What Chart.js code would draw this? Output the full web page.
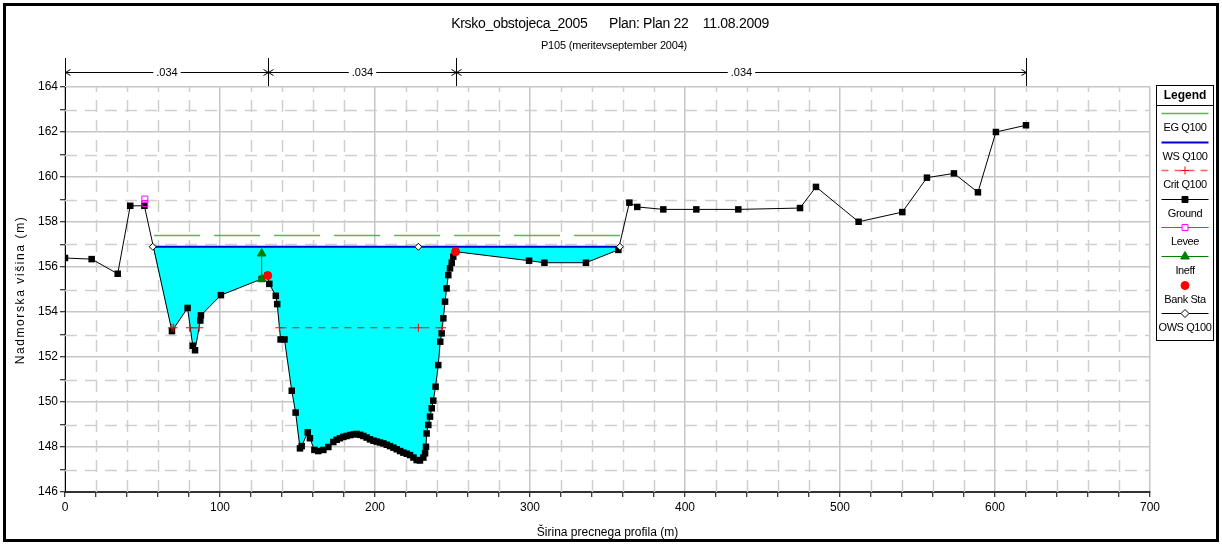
<!DOCTYPE html>
<html>
<head>
<meta charset="utf-8">
<title>P105 cross section</title>
<script src="https://cdn.jsdelivr.net/npm/chart.js@4.4.1/dist/chart.umd.min.js"></script>
<style>
  html, body { margin: 0; padding: 0; background: #fff; overflow: hidden; }
  #wrap { position: relative; width: 1222px; height: 548px; }
</style>
</head>
<body>
<div id="wrap"><canvas id="c" width="1222" height="548"></canvas></div>
<script>
// ---- text ----
const FONT = '"Liberation Sans Narrow","Arial Narrow","Liberation Sans",Arial,sans-serif';
const titleText = 'Krsko_obstojeca_2005      Plan: Plan 22    11.08.2009';
const subtitleText = 'P105 (meritevseptember 2004)';
const xAxisTitle = 'Širina precnega profila (m)';
const yAxisTitle = 'Nadmorska višina (m)';

// ---- axes ----
const xMin = 0, xMax = 700, xMajor = 100, xMinor = 20;
const yMin = 146, yMax = 164, yMajor = 2, yMinor = 1;

// ---- ground profile (station, elevation) ----
const groundX = [0, 17.2, 34, 42.1, 51.2, 69, 79.1, 82.4, 83.9, 87.3, 87.7, 100.6, 126.9,
  130.8, 131.8, 136.0, 136.9, 139.1, 141.6, 146.3, 148.8, 151.6, 152.7, 156.6, 158.0, 160.9,
  163.4, 166.7, 169.9, 173.1, 175.3, 177.4, 179.6, 181.7, 184.0, 186.1, 188.2, 190.4, 192.5,
  194.6, 196.8, 199.0, 201.1, 203.2, 205.4, 207.6, 209.7, 211.9, 214.0, 216.2, 218.3, 220.5,
  222.6, 224.8, 226.9, 229.0, 231.2, 232.3, 232.9, 233.3, 234.4, 235.5, 236.6, 237.6, 239.1,
  240.8, 242.1, 243.0, 244.1, 245.2, 246.2, 247.3, 248.4, 249.5, 250.5, 252.0,
  299.4, 309.3, 336.1, 357.0, 364.1, 369.2, 386.0, 407.3, 434.4, 474.2, 484.5, 512.0, 540.2,
  556.1, 573.5, 589.0, 600.6, 620.0];
const groundY = [156.4, 156.35, 155.7, 158.72, 158.72, 153.15, 154.18, 152.5, 152.3, 153.62, 153.85, 154.75, 155.47,
  155.62, 155.25, 154.72, 154.35, 152.78, 152.78, 150.5, 149.53, 147.94, 148.04, 148.65, 148.39, 147.87,
  147.82, 147.87, 148.0, 148.22, 148.32, 148.39, 148.45, 148.49, 148.53, 148.56, 148.58, 148.54, 148.49,
  148.42, 148.34, 148.28, 148.24, 148.2, 148.16, 148.1, 148.04, 147.97, 147.9, 147.82, 147.75, 147.7,
  147.64, 147.53, 147.42, 147.4, 147.53, 147.72, 148.01, 148.6, 148.98, 149.35, 149.72, 150.06, 150.68,
  151.64, 152.68, 153.05, 153.72, 154.46, 155.05, 155.64, 155.94, 156.19, 156.46, 156.68,
  156.28, 156.19, 156.19, 156.76, 158.86, 158.67, 158.56, 158.56, 158.56, 158.62, 159.56, 158.01, 158.44,
  159.97, 160.16, 159.32, 162.0, 162.3];

// ---- other profile elements ----
const leveeX = [51.5, 51.5];
const leveeY = [159.02, 158.82];
const ineffX = [126.9, 126.9];
const ineffY = [155.47, 156.6];
const bankX = [130.8, 252.0];
const bankY = [155.62, 156.68];
const owsX = [56.6, 228.0, 358.0];
const owsY = [156.9, 156.9, 156.9];
const wsElev = 156.9;
const wsX = [56.6, 358.0];
const egElev = 157.4;
const egX = [57.5, 358.0];
const critElev = 153.3;
const critX = [69.0, 70.1, null, 80.5, 86.6, null, 138.3, 228.0, 243.3];

// ---- Manning's n ----
const nStations = [0, 131, 252, 620];
const nValues = ['.034', '.034', '.034'];

// ---- legend entries ----
const legendNames = ['EG Q100', 'WS Q100', 'Crit Q100', 'Ground', 'Levee', 'Ineff', 'Bank Sta', 'OWS Q100'];

// ---- colours ----
const C = {
  eg: 'rgb(96,176,96)', ws: '#0000d0', crit: '#ff0000', ground: '#000000',
  levee: '#ff00ff', ineff: '#008000', bank: '#ff0000', ows: '#000000',
  water: '#00ffff', gridMajor: '#c6c6c6', gridMinor: '#cfcfcf'
};

const pts = (xs, ys) => xs.map((x, i) => (x === null ? { x: null, y: null } : { x, y: ys[i] }));
const flat = (xs, v) => xs.map(x => (x === null ? { x: null, y: null } : { x, y: v }));

const groundPts = pts(groundX, groundY);
const waterPts = [{ x: wsX[0], y: wsElev }]
  .concat(groundPts.filter(p => p.x > wsX[0] && p.x < wsX[1]))
  .concat([{ x: wsX[1], y: wsElev }]);

// dashed minor grid, drawn under the datasets
const minorGrid = {
  id: 'minorGrid',
  beforeDatasetsDraw(chart) {
    const { ctx, chartArea: a, scales: { x, y } } = chart;
    ctx.save();
    ctx.strokeStyle = C.gridMinor;
    ctx.lineWidth = 1.5;
    ctx.setLineDash([12, 8]);
    for (let v = xMin + xMinor; v < xMax; v += xMinor) {
      if (v % xMajor === 0) continue;
      const px = Math.round(x.getPixelForValue(v)) + 0.5;
      ctx.beginPath(); ctx.moveTo(px, a.bottom); ctx.lineTo(px, a.top); ctx.stroke();
    }
    for (let v = yMin + yMinor; v < yMax; v += yMinor) {
      if (v % yMajor === 0) continue;
      const py = Math.round(y.getPixelForValue(v)) + 0.5;
      ctx.beginPath(); ctx.moveTo(a.left, py); ctx.lineTo(a.right, py); ctx.stroke();
    }
    ctx.restore();
  }
};

// titles, n-value bar, legend box and frame
const decorations = {
  id: 'decorations',
  afterDraw(chart) {
    const { ctx, scales: { x } } = chart;
    ctx.save();

    // frame
    ctx.strokeStyle = '#000';
    ctx.lineWidth = 3;
    ctx.strokeRect(4.5, 4.5, 1213, 536);

    // titles
    ctx.fillStyle = '#000';
    ctx.textAlign = 'center';
    ctx.textBaseline = 'middle';
    ctx.font = '14px ' + FONT;
    ctx.letterSpacing = '-0.3px';
    ctx.fillText(titleText, 610, 24);
    ctx.font = '11px ' + FONT;
    ctx.letterSpacing = '-0.2px';
    ctx.fillText(subtitleText, 614, 46);
    ctx.letterSpacing = '0px';

    // y axis title
    ctx.save();
    ctx.translate(21, 290);
    ctx.rotate(-Math.PI / 2);
    ctx.font = '12px ' + FONT;
    ctx.letterSpacing = '1.6px';
    ctx.fillText(yAxisTitle, 0, 0);
    ctx.restore();

    // Manning's n bar
    const yb = 72.5;
    const sx = nStations.map(s => Math.round(x.getPixelForValue(s)) + 0.5);
    ctx.strokeStyle = '#000';
    ctx.lineWidth = 1;
    ctx.font = '11px ' + FONT;
    sx.forEach(p => { ctx.beginPath(); ctx.moveTo(p, 58); ctx.lineTo(p, 86); ctx.stroke(); });
    for (let i = 0; i < nValues.length; i++) {
      const a = sx[i], b = sx[i + 1], m = (a + b) / 2;
      const w = ctx.measureText(nValues[i]).width / 2 + 3;
      ctx.beginPath();
      ctx.moveTo(a, yb); ctx.lineTo(m - w, yb);
      ctx.moveTo(m + w, yb); ctx.lineTo(b, yb);
      ctx.moveTo(a + 5, yb - 3); ctx.lineTo(a, yb); ctx.lineTo(a + 5, yb + 3);
      ctx.moveTo(b - 5, yb - 3); ctx.lineTo(b, yb); ctx.lineTo(b - 5, yb + 3);
      ctx.stroke();
      ctx.fillText(nValues[i], m, yb + 0.5);
    }

    // legend
    const L = 1156.5, R = 1213.5, T = 85.5, B = 340.5;
    ctx.fillStyle = '#fff';
    ctx.fillRect(L, T, R - L, B - T);
    ctx.strokeStyle = '#000';
    ctx.lineWidth = 1;
    ctx.strokeRect(L, T, R - L, B - T);
    ctx.beginPath(); ctx.moveTo(L, 105.5); ctx.lineTo(R, 105.5); ctx.stroke();
    ctx.fillStyle = '#000';
    ctx.font = 'bold 12px ' + FONT;
    ctx.fillText('Legend', (L + R) / 2, 96);
    ctx.font = '11px ' + FONT;
    ctx.letterSpacing = '-0.4px';
    const cx = (L + R) / 2, x0 = L + 5, x1 = R - 5;
    legendNames.forEach((name, i) => {
      const sy = Math.round(113 + i * 28.6) + 0.5;
      ctx.save();
      const line = (color, width, dash) => {
        ctx.strokeStyle = color; ctx.lineWidth = width; ctx.setLineDash(dash || []);
        ctx.beginPath(); ctx.moveTo(x0, sy); ctx.lineTo(x1, sy); ctx.stroke();
        ctx.setLineDash([]);
      };
      const mark = (style, r, fill, stroke) => {
        ctx.fillStyle = fill; ctx.strokeStyle = stroke; ctx.lineWidth = 1;
        Chart.helpers.drawPoint(ctx, { pointStyle: style, rotation: 0, radius: r, borderWidth: 1 }, cx, sy);
      };
      if (i === 0) line(C.eg, 1.5);
      if (i === 1) line(C.ws, 2);
      if (i === 2) { line('#ff6060', 1.5, [7, 6]); mark('cross', 4, C.crit, C.crit); }
      if (i === 3) { line(C.ground, 1); mark('rect', 4.2, C.ground, C.ground); }
      if (i === 4) { line(C.levee, 1); mark('rect', 4.2, '#fff', C.levee); }
      if (i === 5) { line(C.ineff, 1); mark('triangle', 5, C.ineff, C.ineff); }
      if (i === 6) { mark('circle', 4, C.bank, C.bank); }
      if (i === 7) { line(C.ows, 1); mark('rectRot', 4, '#fff', C.ows); }
      ctx.restore();
      ctx.fillStyle = '#000';
      ctx.fillText(name, cx, sy + 14);
    });

    ctx.restore();
  }
};

new Chart(document.getElementById('c'), {
  type: 'line',
  data: {
    datasets: [
      { label: 'Bank Sta', data: pts(bankX, bankY), order: 0, showLine: false,
        pointStyle: 'circle', pointRadius: 4, pointBackgroundColor: C.bank, pointBorderColor: C.bank },
      { label: 'OWS Q100', data: pts(owsX, owsY), order: 1, showLine: false,
        pointStyle: 'rectRot', pointRadius: 3.5, pointBackgroundColor: '#fff', pointBorderColor: C.ows, pointBorderWidth: 1 },
      { label: 'Ineff', data: pts(ineffX, ineffY), order: 2, borderColor: C.ineff, borderWidth: 1,
        pointStyle: 'triangle', pointRadius: 5, pointBackgroundColor: C.ineff, pointBorderColor: C.ineff },
      { label: 'Levee', data: pts(leveeX, leveeY), order: 3, showLine: false,
        pointStyle: 'rect', pointRadius: 4.2, pointBackgroundColor: 'rgba(255,255,255,0)', pointBorderColor: C.levee, pointBorderWidth: 1 },
      { label: 'Crit Q100', data: flat(critX, critElev), order: 4, borderColor: C.crit, borderWidth: 1,
        borderDash: [7, 6], spanGaps: false,
        pointStyle: 'cross', pointRadius: 4, pointBorderColor: C.crit, pointBorderWidth: 1 },
      { label: 'Ground', data: groundPts, order: 5, borderColor: C.ground, borderWidth: 1,
        pointStyle: 'rect', pointRadius: 4.6, pointBackgroundColor: C.ground, pointBorderColor: C.ground, pointBorderWidth: 0 },
      { label: 'WS Q100', data: flat(wsX, wsElev), order: 6, borderColor: C.ws, borderWidth: 2, pointRadius: 0 },
      { label: 'EG Q100', data: flat(egX, egElev), order: 7, borderColor: C.eg, borderWidth: 1.5,
        borderDash: [46, 14], pointRadius: 0 },
      { label: 'water', data: waterPts, order: 8, borderWidth: 0, borderColor: 'rgba(0,0,0,0)',
        backgroundColor: C.water, fill: { value: wsElev }, pointRadius: 0 }
    ]
  },
  options: {
    responsive: false,
    animation: false,
    parsing: false,
    normalized: true,
    elements: { line: { tension: 0 } },
    layout: { padding: { left: 8, right: 72, top: 87, bottom: 6 } },
    plugins: { legend: { display: false }, tooltip: { enabled: false }, title: { display: false } },
    scales: {
      x: {
        type: 'linear', min: xMin, max: xMax,
        afterFit: s => { s.height = 50; },
        ticks: {
          stepSize: xMinor, autoSkip: false, maxRotation: 0, color: '#000', padding: 3,
          font: { family: FONT, size: 12 },
          callback: v => (v % xMajor === 0 ? String(v) : '')
        },
        grid: {
          color: c => (c.tick && c.tick.value % xMajor === 0 ? C.gridMajor : 'rgba(0,0,0,0)'),
          lineWidth: 1.5, tickColor: '#000', tickLength: 5, tickWidth: 1
        },
        border: { display: true, color: '#333', width: 2 },
        title: { display: true, text: xAxisTitle, color: '#000', font: { family: FONT, size: 12 },
          padding: { top: 0, bottom: 2 } }
      },
      y: {
        type: 'linear', min: yMin, max: yMax,
        afterFit: s => { s.width = 57; },
        ticks: {
          stepSize: yMinor, autoSkip: false, color: '#000', padding: 2,
          font: { family: FONT, size: 12 },
          callback: v => (v % yMajor === 0 ? String(v) : '')
        },
        grid: {
          color: c => (c.tick && c.tick.value % yMajor === 0 ? C.gridMajor : 'rgba(0,0,0,0)'),
          lineWidth: 1.5, tickColor: '#000', tickLength: 5, tickWidth: 1
        },
        border: { display: true, color: '#000', width: 1 }
      }
    }
  },
  plugins: [minorGrid, decorations]
});
</script>
</body>
</html>
